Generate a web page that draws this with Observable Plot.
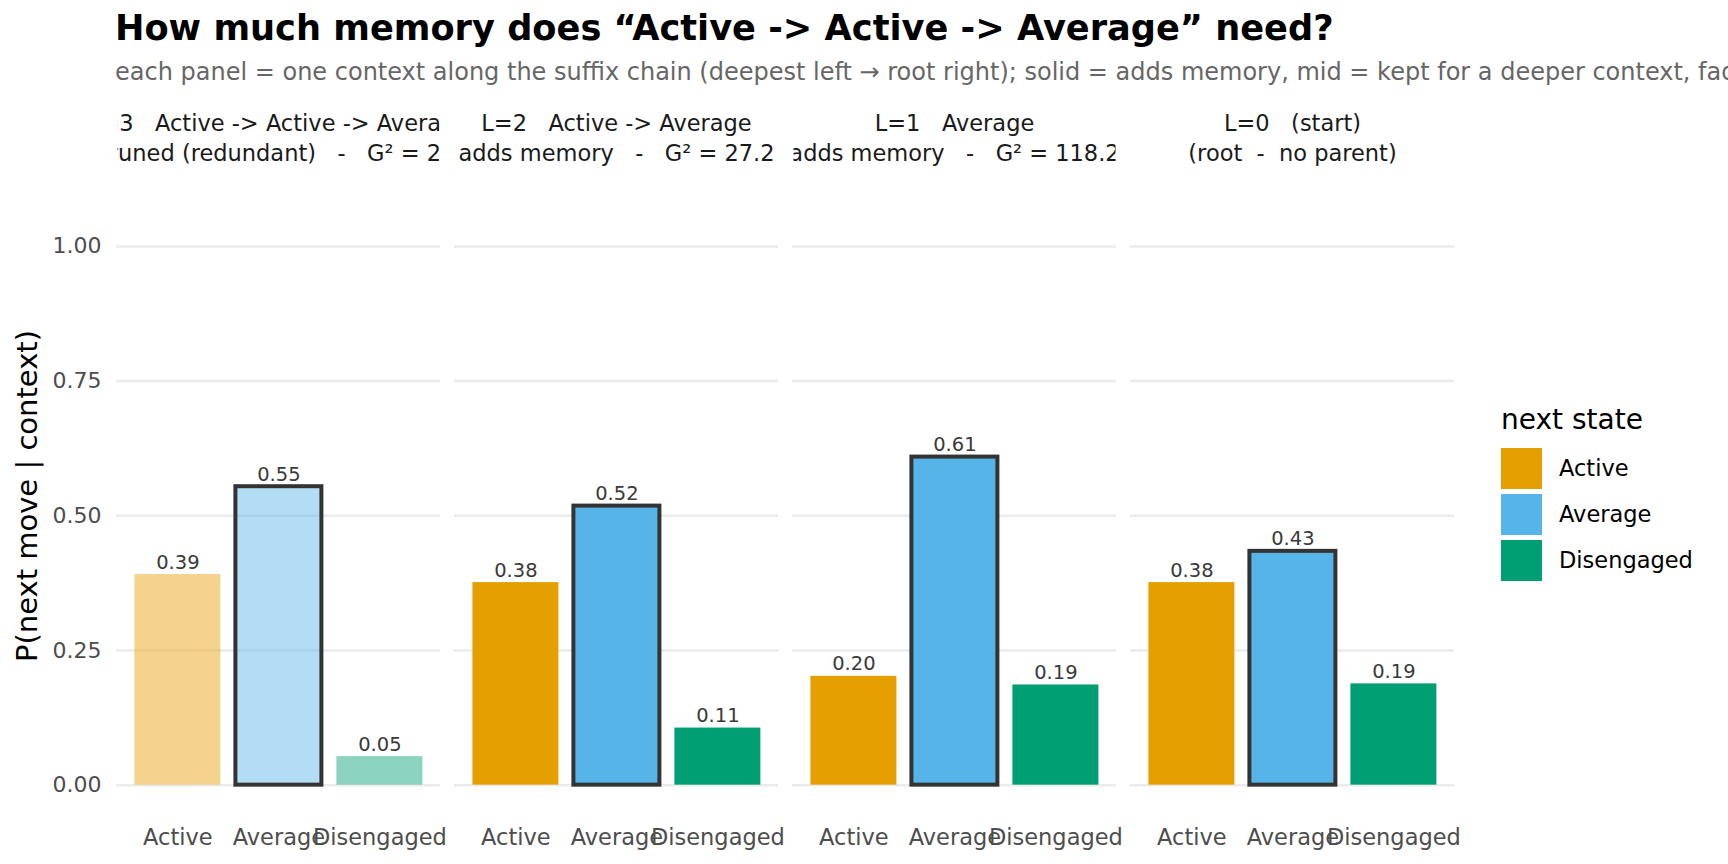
<!DOCTYPE html>
<html><head><meta charset="utf-8">
<script src="https://cdn.jsdelivr.net/npm/d3@7"></script>
<script src="https://cdn.jsdelivr.net/npm/@observablehq/plot@0.6"></script>
<style>
html,body{margin:0;padding:0;background:#fff;}
body{width:1728px;height:864px;overflow:hidden;position:relative;font-family:"DejaVu Sans",sans-serif;}
.abs{position:absolute;white-space:nowrap;line-height:1;}
#chart svg{overflow:visible;}
</style></head><body>
<div id="title" class="abs" style="left:115px;top:10px;font-size:35.2px;font-weight:bold;color:#000;"></div>
<div id="subtitle" class="abs" style="left:115px;top:60px;font-size:24px;color:#666;"></div>
<div id="ylab" class="abs" style="left:27px;top:496px;font-size:29px;color:#000;transform:translate(-50%,-50%) rotate(-90deg);"></div>
<div id="chart" style="position:absolute;left:0;top:90px;"></div>
<div id="legend" class="abs" style="left:1501px;top:406px;"></div>
<script>
const titleText = "How much memory does \u201cActive -> Active -> Average\u201d need?";
const subtitleText = "each panel = one context along the suffix chain (deepest left \u2192 root right); solid = adds memory, mid = kept for a deeper context, faded = pruned (redundant)";
const yTitle = "P(next move | context)";
const legendTitle = "next state";

const depths = [3, 2, 1, 0];
const contexts = ["Active -> Active -> Average", "Active -> Average", "Average", "(start)"];
const verdicts = ["pruned (redundant)", "adds memory", "adds memory", "(root  -  no parent)"];
const g2Values = [2.1, 27.2, 118.2, null];
const states = ["Active", "Average", "Disengaged"];
const stateColors = ["#E69F00", "#56B4E9", "#009E73"];
const pActive = [0.391, 0.376, 0.202, 0.376];
const pAverage = [0.554, 0.518, 0.609, 0.434];
const pDisengaged = [0.053, 0.106, 0.186, 0.188];
const highlightState = "Average";
const prunedVerdict = "pruned (redundant)";
const yTicks = [0, 0.25, 0.5, 0.75, 1];
const yTickLabels = ["0.00", "0.25", "0.50", "0.75", "1.00"];

document.getElementById("title").textContent = titleText;
document.getElementById("subtitle").textContent = subtitleText;
document.getElementById("ylab").textContent = yTitle;

const stripLabels = depths.map((d, i) =>
  g2Values[i] == null
    ? `L=${d}   ${contexts[i]}\n${verdicts[i]}`
    : `L=${d}   ${contexts[i]}\n${verdicts[i]}   -   G\u00b2 = ${g2Values[i]}`);

const probs = [pActive, pAverage, pDisengaged];
const rows = [];
depths.forEach((d, i) => {
  states.forEach((s, j) => {
    rows.push({panel: stripLabels[i], state: s, p: probs[j][i], alpha: verdicts[i] === prunedVerdict ? 0.45 : 1});
  });
});

const plot = Plot.plot({
  width: 1728,
  height: 774,
  marginTop: 129,
  marginBottom: 52.4,
  marginLeft: 114.6,
  marginRight: 273.4,
  style: {fontFamily: "DejaVu Sans, sans-serif", background: "transparent"},
  fx: {domain: stripLabels, paddingInner: 0.0424, paddingOuter: 0},
  x: {domain: states, paddingInner: 0.15, paddingOuter: 0.175},
  y: {domain: [-0.05, 1.05]},
  color: {domain: states, range: stateColors},
  opacity: {type: "identity"},
  marks: [
    Plot.gridY(yTicks, {stroke: "#EBEBEB", strokeOpacity: 1, strokeWidth: 2.5}),
    Plot.barY(rows, {fx: "panel", x: "state", y: "p", fill: "state", fillOpacity: "alpha"}),
    Plot.barY(rows.filter(d => d.state === highlightState), {fx: "panel", x: "state", y: "p", fill: "none", stroke: "#333333", strokeWidth: 4}),
    Plot.text(rows, {fx: "panel", x: "state", y: "p", text: d => d.p.toFixed(2), lineAnchor: "bottom", dy: -6, fontSize: 19.5, fill: "#3a3a3a"}),
    Plot.axisFx({anchor: "top", tickSize: 0, tickPadding: 59, fontSize: 22.5, lineHeight: 1.333, color: "#1a1a1a", label: null}),
    Plot.axisX({tickSize: 0, tickPadding: 17, fontSize: 22.5, color: "#4D4D4D", label: null}),
    Plot.axisY({ticks: yTicks, tickFormat: (d) => yTickLabels[yTicks.indexOf(d)], tickSize: 0, tickPadding: 15, fontSize: 22, color: "#4D4D4D", label: null})
  ]
});
document.getElementById("chart").appendChild(plot);

// clip facet strip labels to their panel width (like ggplot strips)
const ns = "http://www.w3.org/2000/svg";
const bw = plot.scale("fx").bandwidth;
const defs = document.createElementNS(ns, "defs");
plot.insertBefore(defs, plot.firstChild);
let texts = plot.querySelectorAll('g[aria-label="fx-axis tick label"] text');
if (!texts.length) texts = plot.querySelectorAll('g[aria-label^="fx-axis"] text');
texts.forEach((t, k) => {
  const c = t.transform.baseVal.consolidate();
  const tx = c ? c.matrix.e : 0;
  const ty = c ? c.matrix.f : 0;
  const cp = document.createElementNS(ns, "clipPath");
  cp.setAttribute("id", "stripclip" + k);
  const r = document.createElementNS(ns, "rect");
  r.setAttribute("x", tx - bw / 2 + 1);
  r.setAttribute("y", ty - 300);
  r.setAttribute("width", bw - 2);
  r.setAttribute("height", 400);
  cp.appendChild(r);
  defs.appendChild(cp);
  const g = document.createElementNS(ns, "g");
  g.setAttribute("clip-path", `url(#stripclip${k})`);
  t.parentNode.insertBefore(g, t);
  g.appendChild(t);
});

// legend from the plot's color scale
const color = plot.scale("color");
const leg = document.getElementById("legend");
const lt = document.createElement("div");
lt.className = "abs";
lt.style.cssText = "left:0;top:0;font-size:28px;color:#000;";
lt.textContent = legendTitle;
leg.appendChild(lt);
color.domain.forEach((s, k) => {
  const sw = document.createElement("div");
  sw.className = "abs";
  sw.style.cssText = `left:0;top:${42 + 46 * k}px;width:41px;height:41px;background:${color.range[k]};`;
  leg.appendChild(sw);
  const lab = document.createElement("div");
  lab.className = "abs";
  lab.style.cssText = `left:58px;top:${42 + 46 * k}px;height:41px;display:flex;align-items:center;font-size:22.5px;color:#000;`;
  lab.textContent = s;
  leg.appendChild(lab);
});
</script>
</body></html>
